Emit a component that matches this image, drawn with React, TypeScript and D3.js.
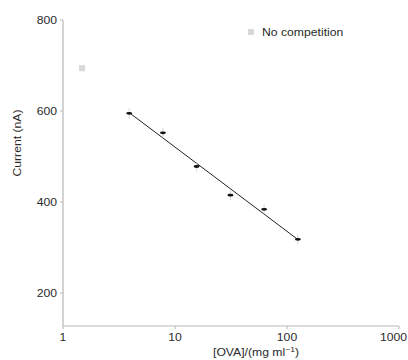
import React from 'react';
import * as d3 from 'd3';

const ovaConc = [3.9, 7.8, 15.6, 31.25, 62.5, 125];
const currentNA = [595, 552, 478, 415, 384, 318];
const noCompX = [1.48];
const noCompY = [694];
const xTicks = [1, 10, 100, 1000];
const yTicks = [200, 400, 600, 800];

// text a bit wider than tall, like the reference
function T({x, y, anchor = 'start', size = 10, rot = 0, children}: any) {
  return (
    <text transform={`translate(${x},${y}) rotate(${rot}) scale(1.22,1)`} textAnchor={anchor}
          fontSize={size} fill="#2a2a2a">{children}</text>
  );
}

export default function App() {
  const width = 408;
  const height = 360;
  const x = d3.scaleLog().domain([1, 1000]).range([63, 399]);
  const y = d3.scaleLinear().domain([200, 800]).range([293, 20]);
  const yBottom = 326;

  // least squares fit on log10(x)
  const lx = ovaConc.map(v => Math.log10(v));
  const mx = d3.mean(lx) as number;
  const my = d3.mean(currentNA) as number;
  const slope = d3.sum(lx, (v, i) => (v - mx) * (currentNA[i] - my)) / d3.sum(lx, v => (v - mx) ** 2);
  const fit = (v: number) => my + slope * (Math.log10(v) - mx);
  const fitPts: [number, number][] = [ovaConc[0], ovaConc[ovaConc.length - 1]].map(v => [x(v), y(fit(v))]);
  const line = d3.line();

  const font = "'Liberation Sans', Arial, sans-serif";
  return (
    <svg width={width} height={height} style={{position: 'absolute', left: 0, top: 0}} fontFamily={font}>
      <rect width={width} height={height} fill="#fff"/>
      <line x1={63} x2={63} y1={20} y2={yBottom} stroke="#b8b8b8" strokeWidth={1.2}/>
      <line x1={63} x2={399} y1={yBottom} y2={yBottom} stroke="#b8b8b8" strokeWidth={1.2}/>
      {yTicks.map(t => (
        <g key={t}>
          <line x1={60} x2={63} y1={y(t)} y2={y(t)} stroke="#b8b8b8"/>
          <T x={57} y={y(t) + 3.5} anchor="end">{t}</T>
        </g>
      ))}
      {xTicks.map((t, i) => (
        <g key={t}>
          <line x1={x(t)} x2={x(t)} y1={yBottom} y2={yBottom + 3} stroke="#b8b8b8"/>
          {i === xTicks.length - 1
            ? <T x={407} y={yBottom + 15} anchor="end">{t}</T>
            : <T x={x(t)} y={yBottom + 15} anchor="middle">{t}</T>}
        </g>
      ))}
      <T x={21} y={143} anchor="middle" rot={-90}>Current (nA)</T>
      <T x={256} y={356} anchor="middle">[OVA]/(mg ml<tspan dy={-4} fontSize={7}>−1</tspan><tspan dy={4}>)</tspan></T>

      <path d={line(fitPts) || ''} stroke="#222" strokeWidth={1} fill="none"/>
      {ovaConc.map((c, i) => (
        <g key={c}>
          <line x1={x(c)} x2={x(c)} y1={y(currentNA[i]) - 5} y2={y(currentNA[i]) + 5} stroke="#ccc" strokeWidth={0.8}/>
          <ellipse cx={x(c)} cy={y(currentNA[i])} rx={3} ry={1.4} fill="#111"/>
        </g>
      ))}
      {noCompX.map((c, i) => (
        <rect key={c} x={x(c) - 3} y={y(noCompY[i]) - 3} width={6} height={6} fill="#d8d8d8"/>
      ))}
      <rect x={248} y={29} width={6} height={6} fill="#d8d8d8"/>
      <T x={262} y={35.5}>No competition</T>
    </svg>
  );
}
